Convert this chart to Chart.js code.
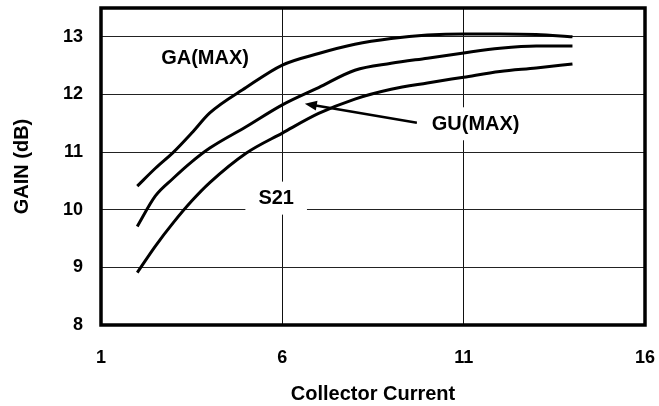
<!DOCTYPE html>
<html>
<head>
<meta charset="utf-8">
<script src="https://cdn.jsdelivr.net/npm/chart.js@4.4.1/dist/chart.umd.min.js"></script>
<style>
  html, body { margin: 0; padding: 0; background: #fff; }
  #wrap { width: 659px; height: 406px; }
</style>
</head>
<body>
<div id="wrap"><canvas id="gainChart" width="659" height="406"></canvas></div>
<script>
// collector current (x) and the three gain curves, in dB
const current = [2, 2.5, 3, 3.5, 4, 5, 6, 7, 8, 9, 10, 11, 12, 13, 14];
const gaMax = [10.41, 10.72, 11.0, 11.33, 11.68, 12.12, 12.51, 12.71, 12.87, 12.97, 13.03, 13.05, 13.05, 13.04, 13.0];
const guMax = [9.71, 10.24, 10.55, 10.83, 11.07, 11.44, 11.82, 12.12, 12.42, 12.54, 12.63, 12.72, 12.8, 12.84, 12.84];
const s21 = [8.91, 9.37, 9.78, 10.15, 10.47, 10.98, 11.33, 11.67, 11.92, 12.09, 12.2, 12.3, 12.4, 12.46, 12.53];
const xTicks = [1, 6, 11, 16];
const yTicks = [8, 9, 10, 11, 12, 13];

const FONT = '"Liberation Sans", Arial, sans-serif';

function toPoints(ys) {
    return ys.map((y, i) => ({ x: current[i], y: y }));
}

// text labels placed in data units, white box behind where a gridline passes
const callouts = [
    { text: 'GA(MAX)', x: 3.87, y: 12.64, box: false },
    { text: 'S21', x: 5.83, y: 10.21, box: true },
    { text: 'GU(MAX)', x: 11.33, y: 11.5, box: true }
];
const arrow = { from: { x: 9.71, y: 11.51 }, to: { x: 6.62, y: 11.84 } };

const framePlugin = {
    id: 'frame',
    beforeDatasetsDraw(chart) {
        const { ctx, scales: { x, y } } = chart;
        ctx.save();
        ctx.font = 'bold 20px ' + FONT;
        ctx.textAlign = 'center';
        ctx.textBaseline = 'middle';
        callouts.forEach(c => {
            const px = x.getPixelForValue(c.x);
            const py = y.getPixelForValue(c.y);
            if (c.box) {
                const w = ctx.measureText(c.text).width + 26;
                ctx.fillStyle = '#fff';
                ctx.fillRect(px - w / 2, py - 16, w, 33);
            }
            ctx.fillStyle = '#000';
            ctx.fillText(c.text, px, py + 1);
        });
        ctx.restore();
    },
    afterDatasetsDraw(chart) {
        const { ctx, chartArea: a, scales: { x, y } } = chart;
        ctx.save();
        // arrow pointing at GU(MAX) curve
        const x1 = x.getPixelForValue(arrow.from.x), y1 = y.getPixelForValue(arrow.from.y);
        const x2 = x.getPixelForValue(arrow.to.x), y2 = y.getPixelForValue(arrow.to.y);
        const ang = Math.atan2(y2 - y1, x2 - x1);
        ctx.strokeStyle = '#000';
        ctx.fillStyle = '#000';
        ctx.lineWidth = 2.5;
        ctx.beginPath();
        ctx.moveTo(x1, y1);
        ctx.lineTo(x2 - 8 * Math.cos(ang), y2 - 8 * Math.sin(ang));
        ctx.stroke();
        ctx.beginPath();
        ctx.moveTo(x2, y2);
        ctx.lineTo(x2 - 12 * Math.cos(ang) + 5 * Math.sin(ang), y2 - 12 * Math.sin(ang) - 5 * Math.cos(ang));
        ctx.lineTo(x2 - 12 * Math.cos(ang) - 5 * Math.sin(ang), y2 - 12 * Math.sin(ang) + 5 * Math.cos(ang));
        ctx.closePath();
        ctx.fill();
        // heavy plot frame
        ctx.lineWidth = 3.5;
        ctx.strokeRect(a.left, a.top, a.right - a.left, a.bottom - a.top);
        ctx.restore();
    }
};

function lineSet(label, ys) {
    return {
        label: label,
        data: toPoints(ys),
        borderColor: '#000',
        borderWidth: 3,
        pointRadius: 0,
        fill: false,
        cubicInterpolationMode: 'monotone'
    };
}

new Chart(document.getElementById('gainChart').getContext('2d'), {
    type: 'line',
    data: {
        datasets: [
            lineSet('GA(MAX)', gaMax),
            lineSet('GU(MAX)', guMax),
            lineSet('S21', s21)
        ]
    },
    options: {
        responsive: false,
        animation: false,
        layout: { padding: { top: 8, right: 14, left: 0, bottom: 0 } },
        plugins: {
            legend: { display: false },
            tooltip: { enabled: false }
        },
        scales: {
            x: {
                type: 'linear',
                min: 1,
                max: 16,
                afterBuildTicks: scale => { scale.ticks = xTicks.map(v => ({ value: v })); },
                afterFit: scale => {
                    scale.height = 81;
                    scale.paddingLeft = 0;
                    scale.paddingRight = 0;
                },
                grid: { color: '#111', lineWidth: 1, drawTicks: false },
                border: { display: false },
                ticks: { color: '#000', padding: 22, font: { family: FONT, size: 18, weight: 'bold' } },
                title: {
                    display: true,
                    text: 'Collector Current',
                    color: '#000',
                    padding: { top: 0, bottom: 0 },
                    font: { family: FONT, size: 20, weight: 'bold' }
                }
            },
            y: {
                min: 8,
                max: 13.5,
                afterBuildTicks: scale => { scale.ticks = yTicks.map(v => ({ value: v })); },
                afterFit: scale => {
                    scale.width = 101;
                    scale.paddingTop = 0;
                    scale.paddingBottom = 0;
                },
                grid: { color: '#222', lineWidth: 1, drawTicks: false },
                border: { display: false },
                ticks: { color: '#000', padding: 18, font: { family: FONT, size: 18, weight: 'bold' } },
                title: {
                    display: true,
                    text: 'GAIN (dB)',
                    color: '#000',
                    padding: { top: 10, bottom: 0 },
                    font: { family: FONT, size: 20, weight: 'bold' }
                }
            }
        }
    },
    plugins: [framePlugin]
});
</script>
</body>
</html>
